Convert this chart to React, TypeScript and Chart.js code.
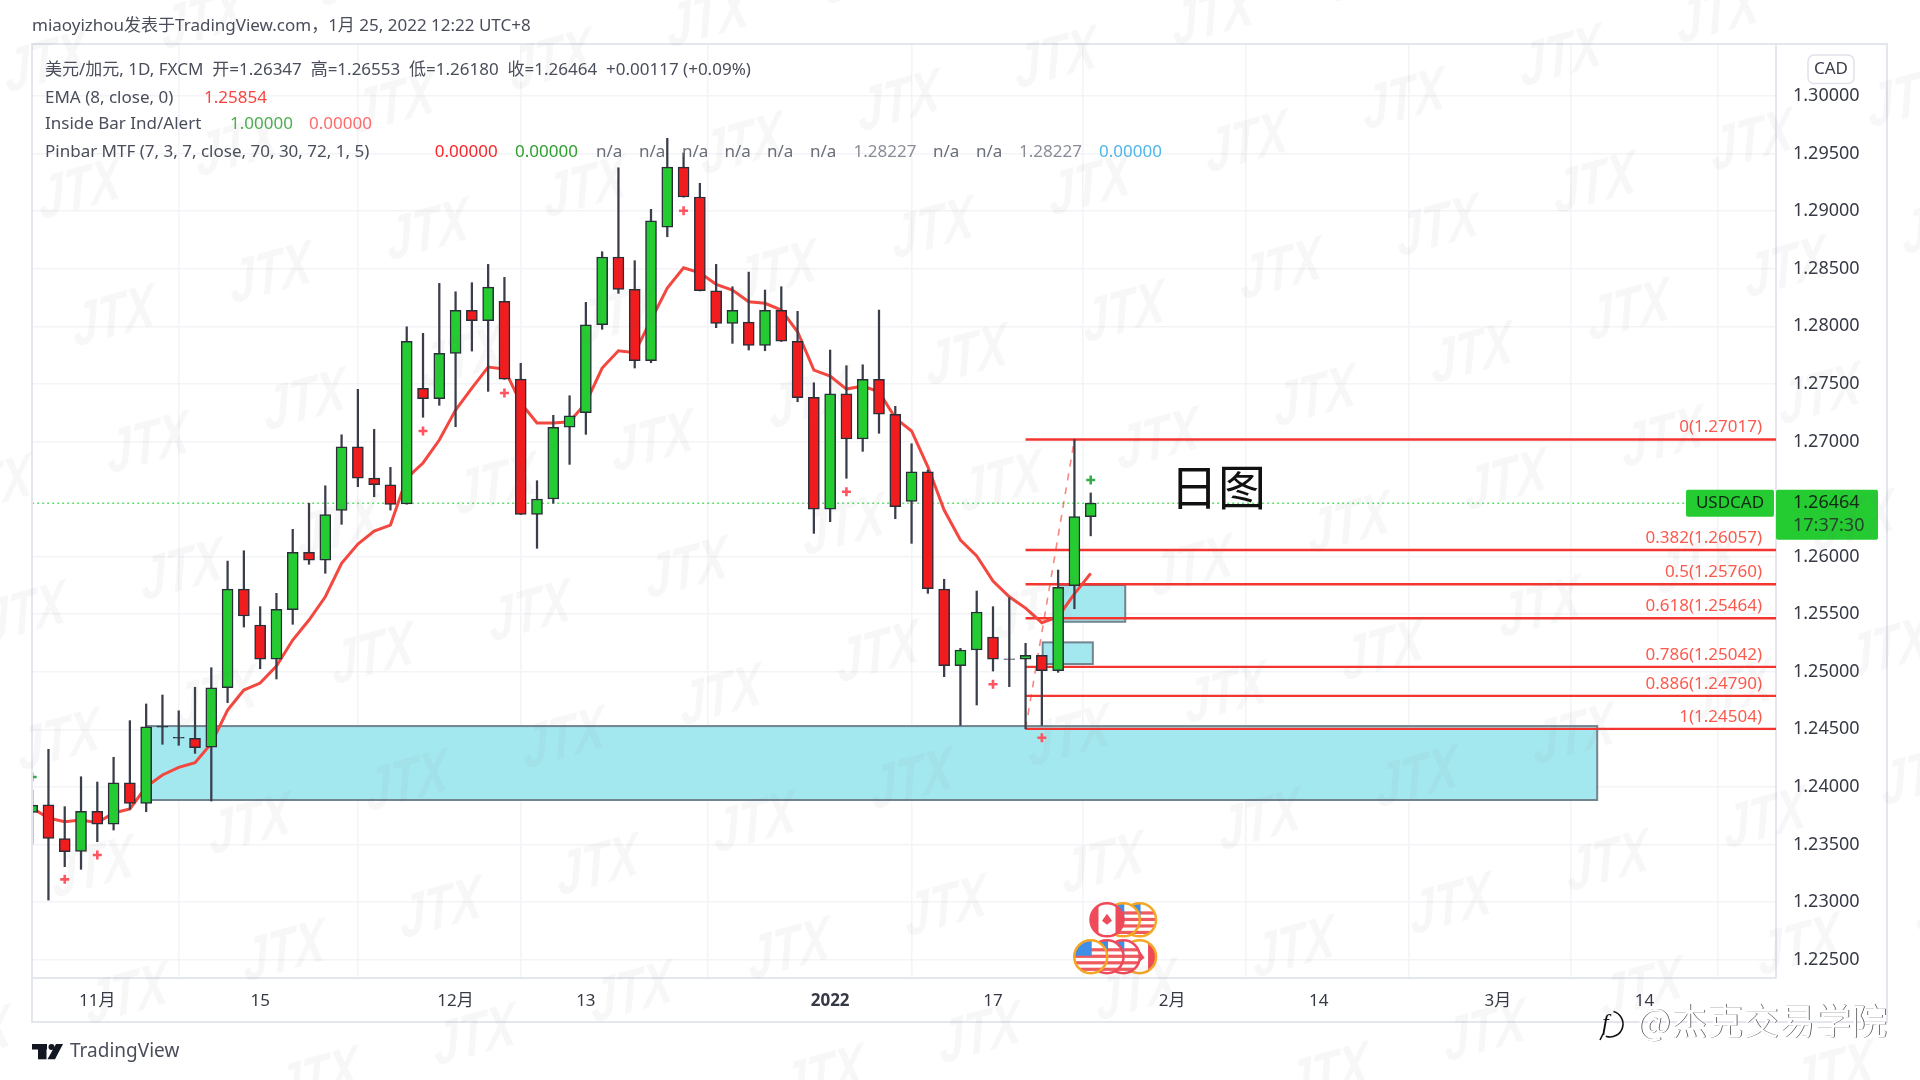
import React, { useEffect, useRef } from "react";
import { Chart, registerables } from "chart.js";

Chart.register(...registerables);

// first visible bar sits four weekdays before 1 Nov
const firstIndex = -4;
const opens = [1.23779,1.23845,1.2355,1.2344,1.23788,1.23677,1.24036,1.23857,1.24525,1.2443,1.24422,1.24344,1.24861,1.25718,1.25406,1.2511,1.25539,1.26037,1.2597,1.26402,1.26954,1.26682,1.26624,1.26457,1.27461,1.27371,1.27765,1.28139,1.28048,1.28217,1.27542,1.26367,1.265,1.27123,1.2725,1.28014,1.28602,1.28321,1.27701,1.28862,1.29383,1.29123,1.28309,1.28026,1.28037,1.27835,1.28139,1.2787,1.27383,1.26411,1.27414,1.27021,1.2754,1.27236,1.2648,1.26737,1.25718,1.25052,1.25189,1.25301,1.25113,1.2511,1.25143,1.25009,1.25747,1.26347];
const highs = [1.23973,1.24326,1.23828,1.24088,1.24042,1.24257,1.24575,1.2472,1.24798,1.24661,1.24865,1.25035,1.25961,1.26051,1.25565,1.25681,1.26237,1.26463,1.26615,1.27058,1.27453,1.27105,1.26775,1.27996,1.27939,1.28373,1.283,1.28379,1.28538,1.28425,1.27679,1.26659,1.27227,1.27397,1.28208,1.28648,1.29377,1.2857,1.29016,1.29633,1.29505,1.29242,1.28538,1.28344,1.28471,1.28315,1.28344,1.2813,1.2751,1.27794,1.27658,1.27666,1.28141,1.27305,1.2698,1.26752,1.25803,1.25203,1.25701,1.25565,1.25643,1.25247,1.25143,1.25883,1.27017,1.26553];
const lows = [1.23504,1.23017,1.23307,1.23284,1.23524,1.23625,1.23805,1.23784,1.2437,1.24361,1.24291,1.23877,1.24731,1.25388,1.25026,1.24937,1.25412,1.25933,1.25855,1.2628,1.26607,1.2652,1.26404,1.26455,1.2721,1.27314,1.27128,1.27785,1.27435,1.2754,1.26365,1.26072,1.26463,1.26801,1.27062,1.27974,1.28286,1.27638,1.27684,1.28778,1.29122,1.28307,1.27988,1.27852,1.27794,1.27788,1.27868,1.27345,1.26202,1.26303,1.2668,1.26914,1.27071,1.26329,1.26115,1.25681,1.24957,1.24534,1.24711,1.25006,1.2487,1.24504,1.24534,1.24995,1.25547,1.2618];
const closes = [1.23842,1.23553,1.23437,1.23788,1.23677,1.24036,1.23857,1.24522,1.24519,1.24424,1.2434,1.24861,1.25718,1.25484,1.2511,1.25542,1.26037,1.2597,1.26364,1.26954,1.26682,1.26624,1.26454,1.2787,1.27371,1.27765,1.28139,1.28048,1.28341,1.27542,1.26367,1.265,1.27123,1.27223,1.28014,1.28602,1.28321,1.27701,1.28917,1.29383,1.29123,1.28309,1.28026,1.28139,1.27835,1.28139,1.2787,1.2738,1.26411,1.27414,1.27021,1.2754,1.27236,1.26433,1.26737,1.25721,1.25052,1.25189,1.25519,1.2511,1.25107,1.25143,1.25009,1.25733,1.26347,1.26464];
const emaValues = [1.23816,1.23729,1.23697,1.23712,1.23689,1.23773,1.23808,1.24001,1.24103,1.2417,1.2421,1.24378,1.24667,1.24841,1.24902,1.2505,1.25275,1.25449,1.25651,1.25942,1.26109,1.26222,1.26274,1.26682,1.26813,1.27012,1.27273,1.27464,1.27646,1.27629,1.27334,1.2716,1.2716,1.27171,1.27334,1.27638,1.27788,1.27771,1.28055,1.28332,1.28509,1.28465,1.28365,1.28315,1.28214,1.282,1.28141,1.27953,1.2762,1.27568,1.27455,1.27481,1.27432,1.27203,1.27091,1.2678,1.26404,1.26144,1.26005,1.25788,1.25651,1.25553,1.25426,1.25478,1.25677,1.25854];

const tickIndexes = [0, 10, 22, 30, 45, 55, 66, 75, 86, 95];
const tickLabels = ["11月", "15", "12月", "13", "2022", "17", "2月", "14", "3月", "14"];
const priceTicks = [1.3,1.295,1.29,1.285,1.28,1.275,1.27,1.26,1.255,1.25,1.245,1.24,1.235,1.23,1.225];

const fibLabels = ["0", "0.382", "0.5", "0.618", "0.786", "0.886", "1"];
const fibValues = [1.27017, 1.26057, 1.2576, 1.25464, 1.25042, 1.2479, 1.24504];
const fibStartIndex = 57;
const fibEndIndex = 103.1;
const lastPrice = 1.26464;
const lastPriceEndIndex = 97.5;

const redMarkIndexes = [-2, 0, 20, 25, 36, 46, 55, 58];
const redMarkValues = [1.23197, 1.23408, 1.27091, 1.27421, 1.29004, 1.26563, 1.24891, 1.24427];
const greenMarkIndexes = [-4, 61];
const greenMarkValues = [1.24086, 1.26665];

const boxStarts = [3, 59, 58.05];
const boxEnds = [92.1, 63.12, 61.13];
const boxTops = [1.24528, 1.25753, 1.25255];
const boxBottoms = [1.23886, 1.25434, 1.25067];

// economic-event badges: drawn back to front
const eventIndexes = [64, 63, 62, 64, 63, 62, 61];
const eventValues = [1.22845, 1.22845, 1.22845, 1.22525, 1.22525, 1.22525, 1.22525];
const eventKinds = ["us", "us", "ca", "ca", "us", "us", "us"];
const eventRings = ["#f5a623", "#f5a623", "#ef4a5a", "#f5a623", "#ef4a5a", "#ef4a5a", "#f5a623"];

const FONT = '"Noto Sans","Noto Sans CJK SC",sans-serif';
const GREEN = "#24cc32";
const RED = "#f01c1e";
const DARK = "#2a2e39";
const GRID = "#f3f4f8";
const BORDER = "#e4e6ee";

const barIndex = (i: number) => firstIndex + i;

function text(ctx: any, s: string, x: number, y: number, color: string, size = 17, align = "left", weight = "") {
  ctx.font = `${weight} ${size}px ${FONT}`;
  ctx.fillStyle = color;
  ctx.textAlign = align;
  ctx.textBaseline = "middle";
  ctx.fillText(s, x, y);
}

function badge(ctx: any, x: number, y: number, kind: string, ring: string) {
  const r = 16.5;
  ctx.save();
  ctx.beginPath();
  ctx.arc(x, y, r, 0, Math.PI * 2);
  ctx.fillStyle = "#fff";
  ctx.fill();
  ctx.clip();
  if (kind === "us") {
    ctx.fillStyle = "#ef5a5f";
    for (let k = 0; k < 3; k++) ctx.fillRect(x - r, y - 2 + k * 6.5, 2 * r, 3.2);
    ctx.fillRect(x - 1, y - 8.5, r, 3.2);
    ctx.fillStyle = "#3f8fe8";
    ctx.fillRect(x - r, y - r, r + 1, r - 1);
  } else {
    ctx.fillStyle = "#ef4a5a";
    ctx.fillRect(x - r, y - r, 8, 2 * r);
    ctx.fillRect(x + r - 8, y - r, 8, 2 * r);
    ctx.beginPath();
    ctx.moveTo(x, y - 6);
    ctx.lineTo(x + 5, y + 1);
    ctx.lineTo(x, y + 5);
    ctx.lineTo(x - 5, y + 1);
    ctx.closePath();
    ctx.fill();
  }
  ctx.restore();
  ctx.beginPath();
  ctx.arc(x, y, r, 0, Math.PI * 2);
  ctx.strokeStyle = ring;
  ctx.lineWidth = 2.5;
  ctx.stroke();
}

const boxesPlugin = {
  id: "boxes",
  beforeDatasetsDraw(chart: any) {
    const { ctx, scales } = chart;
    ctx.save();
    boxStarts.forEach((s, i) => {
      const x0 = scales.x.getPixelForValue(s);
      const x1 = scales.x.getPixelForValue(boxEnds[i]);
      const y0 = scales.y.getPixelForValue(boxTops[i]);
      const y1 = scales.y.getPixelForValue(boxBottoms[i]);
      ctx.fillStyle = "#a4e8ef";
      ctx.fillRect(x0, y0, x1 - x0, y1 - y0);
      ctx.strokeStyle = "#728490";
      ctx.lineWidth = 2;
      ctx.strokeRect(x0, y0, x1 - x0, y1 - y0);
    });
    eventIndexes.forEach((e, i) =>
      badge(ctx, scales.x.getPixelForValue(e), scales.y.getPixelForValue(eventValues[i]), eventKinds[i], eventRings[i])
    );
    ctx.restore();
  },
};

const overlayPlugin = {
  id: "overlay",
  afterDraw(chart: any) {
    const { ctx, scales } = chart;
    const y = scales.y;
    ctx.save();

    // frame
    ctx.strokeStyle = BORDER;
    ctx.lineWidth = 2;
    ctx.strokeRect(32, 44, 1855, 978);

    // header
    text(ctx, "miaoyizhou发表于TradingView.com，1月 25, 2022 12:22 UTC+8", 32, 26, "#4a4e5a", 17);

    // legend
    const grey = "#4a4e5a";
    text(ctx, "美元/加元, 1D, FXCM  开=1.26347  高=1.26553  低=1.26180  收=1.26464  +0.00117 (+0.09%)", 45, 70, grey, 17);
    text(ctx, "EMA (8, close, 0)", 45, 97.7, grey, 17);
    text(ctx, "1.25854", 204, 97.7, "#f8453f", 17);
    text(ctx, "Inside Bar Ind/Alert", 45, 124.3, grey, 17);
    text(ctx, "1.00000", 230, 124.3, "#4caf50", 17);
    text(ctx, "0.00000", 309, 124.3, "#ff6b6b", 17);
    text(ctx, "Pinbar MTF (7, 3, 7, close, 70, 30, 72, 1, 5)", 45, 151.7, grey, 17);
    text(ctx, "0.00000", 434.7, 151.7, "#f6262a", 17);
    text(ctx, "0.00000", 515, 151.7, "#2e9e2e", 17);
    [596, 639, 682, 724.5, 767, 810, 933, 976].forEach((x) => text(ctx, "n/a", x, 151.7, "#6a6e78", 17));
    [853.5, 1019].forEach((x) => text(ctx, "1.28227", x, 151.7, "#8a8d96", 17));
    text(ctx, "0.00000", 1099, 151.7, "#4fb6ea", 17);

    // fib labels
    fibValues.forEach((v, i) => {
      text(ctx, `${fibLabels[i]}(${v.toFixed(5)})`, 1762, y.getPixelForValue(v) - 12, "#fb5a4e", 17, "right");
    });

    // big annotation
    text(ctx, "日图", 1218, 491, "#111", 48, "center");

    // last price tags
    const py = y.getPixelForValue(lastPrice);
    ctx.fillStyle = GREEN;
    ctx.beginPath();
    ctx.roundRect(1686, py - 13.5, 88, 27, 2);
    ctx.fill();
    ctx.beginPath();
    ctx.roundRect(1776, py - 13.5, 102, 50, 2);
    ctx.fill();
    text(ctx, "USDCAD", 1730, py, "#0f2a12", 17, "center");
    text(ctx, lastPrice.toFixed(5), 1793, py, "#0f2a12", 18);
    text(ctx, "17:37:30", 1793, py + 22.5, "#24452a", 18);

    // currency button
    ctx.fillStyle = "#fff";
    ctx.strokeStyle = "#dfe2ea";
    ctx.lineWidth = 1.5;
    ctx.beginPath();
    ctx.roundRect(1808, 55, 46, 28.5, 6);
    ctx.fill();
    ctx.stroke();
    text(ctx, "CAD", 1831, 69, "#3a3e4a", 17, "center");

    // TradingView logo
    ctx.fillStyle = "#131722";
    ctx.fillRect(32, 1044, 15, 5.5);
    ctx.fillRect(38, 1044, 8.5, 15.3);
    ctx.beginPath();
    ctx.arc(51.5, 1047, 3, 0, Math.PI * 2);
    ctx.fill();
    ctx.beginPath();
    ctx.moveTo(56, 1044);
    ctx.lineTo(63, 1044);
    ctx.lineTo(55, 1059.3);
    ctx.lineTo(47.5, 1059.3);
    ctx.closePath();
    ctx.fill();
    text(ctx, "TradingView", 70, 1052, "#4a4e5a", 19);

    // repeating JTX watermark
    ctx.font = `italic bold 46px "Liberation Sans Narrow","Liberation Sans",sans-serif`;
    ctx.fillStyle = "rgba(110,110,110,0.055)";
    ctx.textAlign = "center";
    ctx.textBaseline = "middle";
    for (let a = -6; a < 16; a++) {
      for (let b = -6; b < 12; b++) {
        const wx = 80 + a * 157 + b * 34;
        const wy = 192 - a * 43 + b * 127;
        if (wx < -60 || wx > 1980 || wy < -40 || wy > 1120) continue;
        ctx.save();
        ctx.translate(wx, wy);
        ctx.rotate(-0.27);
        ctx.transform(1, 0, -0.28, 1.3, 0, 0);
        ctx.fillText("JTX", 0, 0);
        ctx.restore();
      }
    }

    // author stamp
    const stamp = "@杰克交易学院";
    ctx.font = `36px "Noto Sans CJK SC",sans-serif`;
    ctx.textAlign = "left";
    ctx.textBaseline = "middle";
    ctx.fillStyle = "rgba(20,20,20,0.85)";
    ctx.fillText(stamp, 1637.8, 1021.8);
    ctx.fillStyle = "#fff";
    ctx.fillText(stamp, 1637, 1021);
    ctx.strokeStyle = "#111";
    ctx.lineWidth = 1.6;
    ctx.beginPath();
    ctx.arc(1610, 1024, 13, -1.3, 1.9);
    ctx.moveTo(1600, 1040);
    ctx.lineTo(1603, 1034);
    ctx.stroke();
    ctx.font = `italic 24px "Liberation Serif",serif`;
    ctx.fillStyle = "#111";
    ctx.fillText("f", 1602, 1024);

    ctx.restore();
  },
};

export default function App() {
  const ref = useRef<HTMLCanvasElement | null>(null);
  useEffect(() => {
    const bars = opens.map((_, i) => i);
    const colors = bars.map((i) =>
      Math.abs(closes[i] - opens[i]) < 0.0001 ? DARK : closes[i] >= opens[i] ? GREEN : RED
    );
    const chart = new Chart(ref.current as HTMLCanvasElement, {
      type: "bar",
      data: {
        datasets: [
          {
            type: "bar",
            label: "bodies",
            order: 1,
            grouped: false,
            data: bars.map((i) => ({ x: barIndex(i), y: [opens[i], closes[i]] })),
            backgroundColor: colors,
            borderColor: DARK,
            borderWidth: 1.5,
            borderSkipped: false,
            barThickness: 11,
          },
          {
            type: "bar",
            label: "wicks",
            order: 2,
            grouped: false,
            data: bars.map((i) => ({ x: barIndex(i), y: [lows[i], highs[i]] })),
            backgroundColor: "#3a3e4a",
            barThickness: 1.6,
          },
          {
            type: "line",
            label: "red marks",
            order: 0,
            showLine: false,
            data: redMarkIndexes.map((x, i) => ({ x, y: redMarkValues[i] })),
            pointStyle: "cross",
            pointRadius: 4.5,
            pointBorderWidth: 2.6,
            pointBorderColor: "#ff5560",
          },
          {
            type: "line",
            label: "green marks",
            order: 0,
            showLine: false,
            data: greenMarkIndexes.map((x, i) => ({ x, y: greenMarkValues[i] })),
            pointStyle: "cross",
            pointRadius: 4.5,
            pointBorderWidth: 2.6,
            pointBorderColor: "#35ac4a",
          },
          {
            type: "line",
            label: "EMA",
            order: 3,
            data: bars.map((i) => ({ x: barIndex(i), y: emaValues[i] })),
            borderColor: "#f4473f",
            borderWidth: 3,
            pointRadius: 0,
            tension: 0,
          },
          ...fibValues.map((v, i) => ({
            type: "line",
            label: `fib ${fibLabels[i]}`,
            order: 4,
            data: [
              { x: fibStartIndex, y: v },
              { x: fibEndIndex, y: v },
            ],
            borderColor: "#f4352f",
            borderWidth: 2.4,
            pointRadius: 0,
          })),
          {
            type: "line",
            label: "fib trend",
            order: 4,
            data: [
              { x: fibStartIndex, y: fibValues[6] },
              { x: 60, y: fibValues[0] },
            ],
            borderColor: "rgba(244,70,60,0.65)",
            borderWidth: 1.6,
            borderDash: [7, 7],
            pointRadius: 0,
          },
          {
            type: "line",
            label: "last price",
            order: 5,
            data: [
              { x: firstIndex, y: lastPrice },
              { x: lastPriceEndIndex, y: lastPrice },
            ],
            borderColor: "#63dd6c",
            borderWidth: 1.5,
            borderDash: [2, 3],
            pointRadius: 0,
          },
        ] as any,
      },
      options: {
        animation: false,
        responsive: false,
        devicePixelRatio: 1,
        layout: { padding: { left: 32, top: 44, right: 33, bottom: 58 } },
        plugins: { legend: { display: false }, tooltip: { enabled: false } },
        events: [],
        scales: {
          x: {
            type: "linear",
            offset: false,
            min: -4.01,
            max: 103.08,
            afterBuildTicks(scale: any) {
              scale.ticks = tickIndexes.map((value) => ({ value }));
            },
            afterFit(scale: any) {
              scale.height = 44;
            },
            grid: { color: GRID, lineWidth: 1.5, drawTicks: false },
            border: { color: BORDER, width: 2 },
            ticks: {
              autoSkip: false,
              maxRotation: 0,
              padding: 13,
              color: "#363a45",
              font: (c: any) => ({
                family: FONT,
                size: 17,
                weight: c.index === tickLabels.indexOf("2022") ? "bold" : "normal",
              }),
              callback: (v: any) => tickLabels[tickIndexes.indexOf(v)],
            },
          },
          y: {
            type: "linear",
            position: "right",
            min: 1.2234,
            max: 1.30452,
            afterBuildTicks(scale: any) {
              scale.ticks = priceTicks.map((value) => ({ value }));
            },
            afterFit(scale: any) {
              scale.width = 111;
            },
            grid: { color: GRID, lineWidth: 1.5, drawTicks: false },
            border: { color: BORDER, width: 2 },
            ticks: {
              padding: 17,
              align: "center",
              crossAlign: "near",
              color: "#363a45",
              font: { family: FONT, size: 18 },
              callback: (v: any) => Number(v).toFixed(5),
            },
          },
        },
      } as any,
      plugins: [boxesPlugin, overlayPlugin],
    });
    return () => chart.destroy();
  }, []);
  return (
    <div style={{ position: "fixed", left: 0, top: 0, width: 1920, height: 1080, background: "#fff" }}>
      <canvas ref={ref} width={1920} height={1080} style={{ display: "block" }} />
    </div>
  );
}
